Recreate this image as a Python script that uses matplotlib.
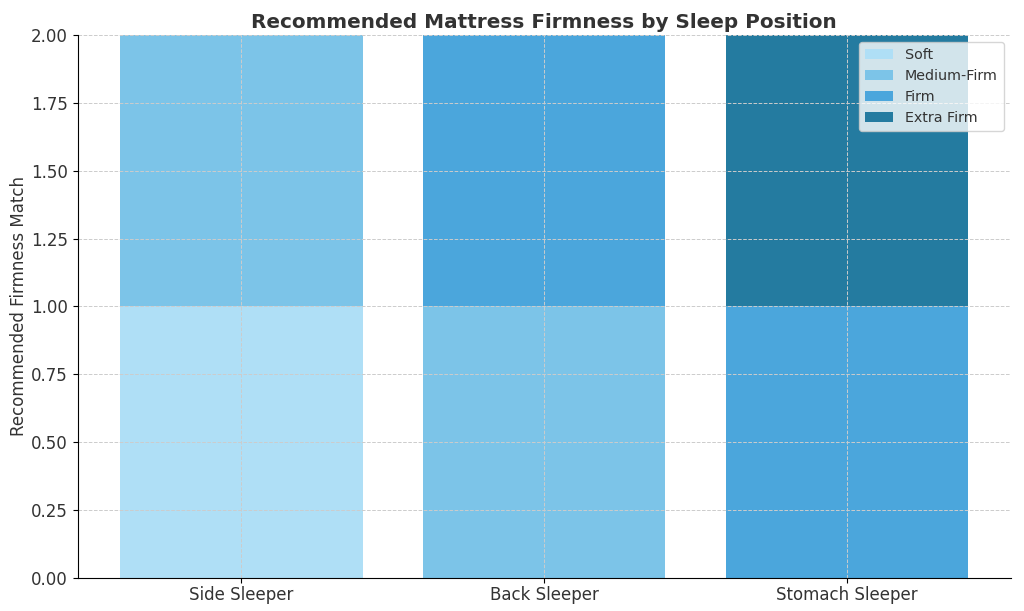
import matplotlib.pyplot as plt
import numpy as np

positions = ["Side Sleeper", "Back Sleeper", "Stomach Sleeper"]
firmness = ["Soft", "Medium-Firm", "Firm", "Extra Firm"]
soft = [1, 0, 0]
medium_firm = [1, 1, 0]
firm = [0, 1, 1]
extra_firm = [0, 0, 1]
colors = ["#afdff6", "#7cc4e8", "#4ba6dc", "#247ba0"]

fig, ax = plt.subplots(figsize=(10.24, 6.11), dpi=100)
x = np.arange(len(positions))
bottom = np.zeros(len(positions))
for name, vals, c in zip(firmness, [soft, medium_firm, firm, extra_firm], colors):
    ax.bar(x, vals, 0.8, bottom=bottom, color=c, label=name)
    bottom += np.array(vals)

ax.set_xticks(x)
ax.set_xticklabels(positions, fontsize=12, color="#333333")
ax.tick_params(axis="x", pad=2)
ax.tick_params(axis="y", labelsize=12, labelcolor="#333333")
ax.set_ylim(0, 2)
ax.set_ylabel("Recommended Firmness Match", fontsize=12, color="#333333", labelpad=2)
ax.set_title("Recommended Mattress Firmness by Sleep Position", fontsize=14.4,
             fontweight="bold", color="#333333", pad=5)
ax.grid(True, linestyle="--", color="#cccccc", linewidth=0.7)
ax.spines["top"].set_visible(False)
ax.spines["right"].set_visible(False)
ax.legend(loc="upper right", fontsize=10.3, labelcolor="#333333")

fig.subplots_adjust(left=0.076, right=0.987, top=0.943, bottom=0.054)
plt.savefig("out.png")
